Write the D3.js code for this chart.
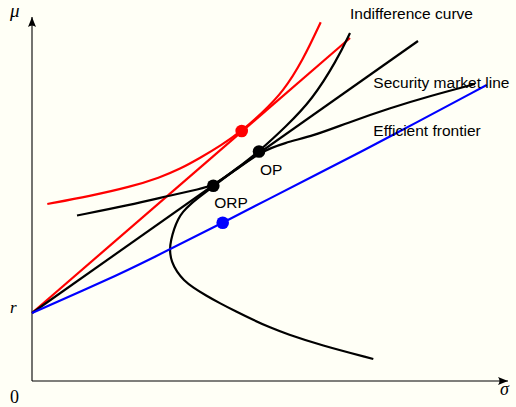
<!DOCTYPE html>
<html><head><meta charset="utf-8">
<script src="https://cdn.jsdelivr.net/npm/d3@7"></script>
<style>
html,body{margin:0;padding:0;background:#fffff6;}
svg{display:block;}
</style></head>
<body>
<script>
// ---- data (sigma, mu) ----
const riskFree = 0.68;
// efficient frontier, ordered from top of the upper branch to the end of the lower branch
const frontier = [[3.18,3.48],[3.05,3.21],[2.80,2.81],[2.54,2.545],[2.27,2.295],[2.04,2.12],[1.81,1.945],[1.68,1.845],[1.58,1.765],[1.51,1.695],[1.46,1.62],[1.42,1.52],[1.39,1.41],[1.375,1.31],[1.395,1.19],[1.45,1.09],[1.515,1.01],[1.61,0.935],[1.74,0.855],[1.88,0.777],[2.04,0.695],[2.213,0.61],[2.38,0.535],[2.547,0.47],[2.88,0.36],[3.413,0.22]];
const redIndiff = [[0.153,1.77],[0.58,1.85],[0.98,1.94],[1.28,2.035],[1.48,2.12],[1.68,2.23],[1.89,2.355],[2.097,2.50],[2.30,2.68],[2.51,2.89],[2.71,3.21],[2.887,3.587]];
const blackIndiff = [[0.45,1.655],[0.98,1.76],[1.38,1.855],[1.68,1.92],[1.81,1.955],[2.04,2.11],[2.27,2.285],[2.53,2.385],[2.81,2.45],[3.15,2.58],[3.58,2.73],[3.98,2.85],[4.43,2.97]];
const blueLine = [[0,0.68],[0.75,1.01],[1.18,1.217],[1.907,1.583],[2.947,2.117],[3.58,2.443],[4.547,2.96]];
const redLineEnd = [3.18,3.43];
const smlEnd = [3.86,3.40];
const dots = [
  {name:"red", p:[2.097,2.50], color:"#ff0000"},
  {name:"OP", p:[2.27,2.295], color:"#000000"},
  {name:"ORP", p:[1.813,1.953], color:"#000000"},
  {name:"blue", p:[1.907,1.583], color:"#0000ff"}
];
const textLabels = [
  {t:"Indifference curve", p:[3.18,3.625]},
  {t:"Security market line", p:[3.413,2.935]},
  {t:"Efficient frontier", p:[3.413,2.45]},
  {t:"OP", p:[2.28,2.065]},
  {t:"ORP", p:[1.822,1.73]}
];

const W=516,H=407;
const svg=d3.select("body").append("svg").attr("width",W).attr("height",H);
svg.append("rect").attr("width",W).attr("height",H).attr("fill","#fffff6");

const x=d3.scaleLinear().domain([0,4.76]).range([32,508]);
const y=d3.scaleLinear().domain([0,3.64]).range([381,17]);

// axes
const defs=svg.append("defs");
defs.append("marker").attr("id","arr").attr("viewBox","0 0 10 8").attr("refX",10).attr("refY",4)
  .attr("markerWidth",10).attr("markerHeight",8).attr("markerUnits","userSpaceOnUse").attr("orient","auto")
  .append("path").attr("d","M0,0 Q3,4 0,8 L10,4 Z").attr("fill","#000");
svg.append("line").attr("x1",x(0)).attr("y1",y(0)).attr("x2",x(4.76)).attr("y2",y(0))
  .attr("stroke","#000").attr("stroke-width",1.1).attr("marker-end","url(#arr)");
svg.append("line").attr("x1",x(0)).attr("y1",y(0)).attr("x2",x(0)).attr("y2",y(3.64))
  .attr("stroke","#000").attr("stroke-width",1.1).attr("marker-end","url(#arr)");

const smooth=d3.line().x(d=>x(d[0])).y(d=>y(d[1])).curve(d3.curveBasis);
const straight=d3.line().x(d=>x(d[0])).y(d=>y(d[1]));

svg.append("path").attr("d",smooth(redIndiff)).attr("fill","none").attr("stroke","#ff0000").attr("stroke-width",2.2);
svg.append("path").attr("d",straight([[0,riskFree],redLineEnd])).attr("fill","none").attr("stroke","#ff0000").attr("stroke-width",2.2);
svg.append("path").attr("d",smooth(frontier)).attr("fill","none").attr("stroke","#000").attr("stroke-width",2.2);
svg.append("path").attr("d",straight([[0,riskFree],smlEnd])).attr("fill","none").attr("stroke","#000").attr("stroke-width",2.2);
svg.append("path").attr("d",smooth(blackIndiff)).attr("fill","none").attr("stroke","#000").attr("stroke-width",2.2);
svg.append("path").attr("d",smooth(blueLine)).attr("fill","none").attr("stroke","#0000ff").attr("stroke-width",2.2);

svg.selectAll("circle.dot").data(dots).join("circle").attr("class","dot")
  .attr("cx",d=>x(d.p[0])).attr("cy",d=>y(d.p[1])).attr("r",6.3).attr("fill",d=>d.color);

svg.selectAll("text.lab").data(textLabels).join("text").attr("class","lab")
  .attr("x",d=>x(d.p[0])).attr("y",d=>y(d.p[1])).text(d=>d.t)
  .attr("font-family","'Liberation Sans', Arial, sans-serif").attr("font-size",15.5).attr("fill","#000");

// math labels
svg.append("text").attr("x",10).attr("y",17).text("μ").attr("font-family","'Liberation Serif',serif").attr("font-style","italic").attr("font-size",19);
svg.append("text").attr("x",10).attr("y",y(riskFree)).text("r").attr("font-family","'Liberation Serif',serif").attr("font-style","italic").attr("font-size",17);
svg.append("text").attr("x",10).attr("y",403).text("0").attr("font-family","'Liberation Serif',serif").attr("font-size",18);
svg.append("text").attr("x",500).attr("y",395).text("σ").attr("font-family","'Liberation Serif',serif").attr("font-style","italic").attr("font-size",18);
</script>
</body></html>
